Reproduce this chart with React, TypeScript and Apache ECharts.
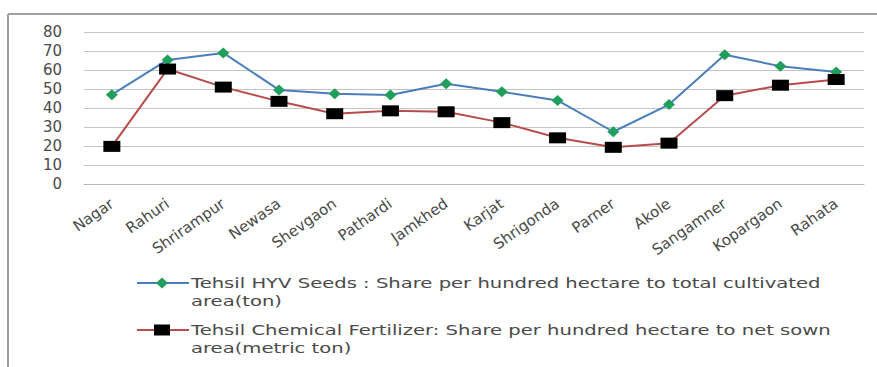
import React, { useEffect, useRef } from "react";
import * as echarts from "echarts";

const categories = ["Nagar", "Rahuri", "Shrirampur", "Newasa", "Shevgaon", "Pathardi", "Jamkhed", "Karjat", "Shrigonda", "Parner", "Akole", "Sangamner", "Kopargaon", "Rahata"];
const hyvSeeds = [47, 65.3, 69, 49.5, 47.5, 46.8, 52.8, 48.5, 44, 27.5, 41.8, 68, 62, 59];
const fertilizer = [19.8, 60.5, 51, 43.5, 37, 38.5, 38, 32.3, 24.3, 19.3, 21.5, 46.5, 52, 55];
const yTicks = { min: 0, max: 80, interval: 10 };
const hyvName = "Tehsil HYV Seeds : Share per hundred hectare to total cultivated area(ton)";
const fertName = "Tehsil Chemical Fertilizer: Share per hundred hectare to net sown area(metric ton)";
const hyvLegendLines = ["Tehsil HYV Seeds : Share per hundred hectare to total cultivated", "area(ton)"];
const fertLegendLines = ["Tehsil Chemical Fertilizer: Share per hundred hectare to net sown", "area(metric ton)"];

const HYV_LINE = "#4a7ebb";
const HYV_MARK = "#1f9e5c";
const FERT_LINE = "#b84c4c";
const FERT_MARK = "#000000";
const TEXT = "#4a4a4a";

export default function App() {
  const ref = useRef<HTMLDivElement>(null);
  useEffect(() => {
    if (!ref.current) return;
    const chart = echarts.init(ref.current, undefined, { renderer: "svg" });
    const font = "'DejaVu Sans', Verdana, sans-serif";
    const legendItem = (y: number, lines: string[], kind: "diamond" | "square") => {
      const cx = 162;
      const marker =
        kind === "diamond"
          ? { type: "polygon", shape: { points: [[cx, y - 5.5], [cx + 6, y], [cx, y + 5.5], [cx - 6, y]] }, style: { fill: HYV_MARK } }
          : { type: "rect", shape: { x: cx - 8, y: y - 5.5, width: 16, height: 11 }, style: { fill: FERT_MARK } };
      return [
        { type: "line", shape: { x1: 137, y1: y, x2: 189, y2: y }, style: { stroke: kind === "diamond" ? HYV_LINE : FERT_LINE, lineWidth: 2 } },
        marker,
        { type: "text", x: 191, y: y, scaleX: 1.4, style: { text: lines[0], fill: TEXT, font: `14px ${font}`, verticalAlign: "middle" } },
        { type: "text", x: 191, y: y + 18, scaleX: 1.4, style: { text: lines[1], fill: TEXT, font: `14px ${font}`, verticalAlign: "middle" } },
      ];
    };
    chart.setOption({
      animation: false,
      backgroundColor: "#ffffff",
      textStyle: { fontFamily: font },
      grid: { left: 84, right: 13, top: 32, bottom: 183, containLabel: false },
      legend: { show: false, data: [hyvName, fertName] },
      xAxis: {
        type: "category",
        data: categories,
        boundaryGap: true,
        axisLine: { show: true, lineStyle: { color: "#b8b8b8", width: 1 } },
        axisTick: { show: false },
        axisLabel: { rotate: 35, color: TEXT, fontSize: 15, margin: 18, fontFamily: font, interval: 0 },
      },
      yAxis: {
        type: "value",
        min: yTicks.min,
        max: yTicks.max,
        interval: yTicks.interval,
        axisLine: { show: false },
        axisTick: { show: false },
        axisLabel: { color: TEXT, fontSize: 15, margin: 22, fontFamily: font },
        splitLine: { lineStyle: { color: "#c4c4c4", width: 1 } },
      },
      series: [
        {
          name: hyvName,
          type: "line",
          data: hyvSeeds,
          lineStyle: { color: HYV_LINE, width: 2 },
          itemStyle: { color: HYV_MARK },
          symbol: "diamond",
          symbolSize: [12, 11],
        },
        {
          name: fertName,
          type: "line",
          data: fertilizer,
          lineStyle: { color: FERT_LINE, width: 2 },
          itemStyle: { color: FERT_MARK },
          symbol: "rect",
          symbolSize: [17, 11],
        },
      ],
      graphic: [
        { type: "line", shape: { x1: 8, y1: 14, x2: 877, y2: 14 }, style: { stroke: "#a0a0a0", lineWidth: 2 } },
        { type: "line", shape: { x1: 8, y1: 14, x2: 8, y2: 367 }, style: { stroke: "#a0a0a0", lineWidth: 2 } },
        ...legendItem(283, hyvLegendLines, "diamond"),
        ...legendItem(330, fertLegendLines, "square"),
      ],
    });
    return () => chart.dispose();
  }, []);
  return <div ref={ref} style={{ position: "absolute", left: 0, top: 0, width: 877, height: 367 }} />;
}
